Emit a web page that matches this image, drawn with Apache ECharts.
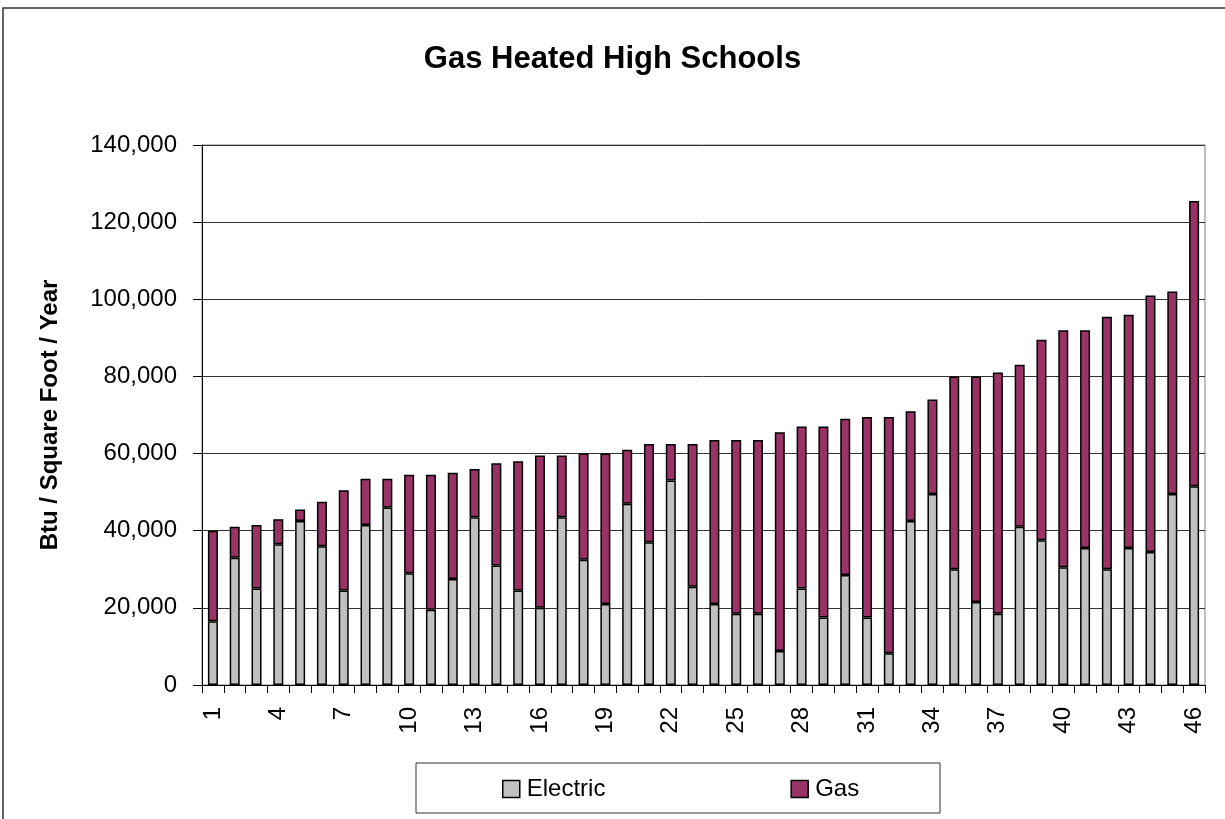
<!DOCTYPE html>
<html>
<head>
<meta charset="utf-8">
<script src="https://cdn.jsdelivr.net/npm/echarts@6/dist/echarts.min.js"></script>
<style>
  html, body { margin: 0; padding: 0; background: #fff; }
  #chart { width: 1225px; height: 819px; }
</style>
</head>
<body>
<div id="chart"></div>
<script>
// school numbers along the x axis
const schools = [];
for (let i = 1; i <= 46; i++) schools.push(String(i));

// Btu / sq ft / year
const electric = [16500, 33000, 25000, 36500, 42500, 36000, 24500, 41500, 46000, 29000,
  19500, 27500, 43500, 31000, 24500, 20000, 43500, 32500, 21000, 47000,
  37000, 53000, 25500, 21000, 18500, 18500, 8800, 25000, 17500, 28500,
  17500, 8200, 42500, 49500, 30000, 21500, 18500, 41000, 37500, 30500,
  35500, 30000, 35500, 34500, 49500, 51500];

const gas = [23500, 8000, 16500, 6500, 3000, 11500, 26000, 12000, 7500, 25500,
  35000, 27500, 12500, 26500, 33500, 39500, 16000, 27500, 39000, 14000,
  25500, 9500, 37000, 42500, 45000, 45000, 56700, 42000, 49500, 40500,
  52000, 61300, 28500, 24500, 50000, 58500, 62500, 42000, 52000, 61500,
  56500, 65500, 60500, 66500, 52500, 74000];

const chart = echarts.init(document.getElementById('chart'))

const font = 'Arial, "Liberation Sans", sans-serif'

const option = {
  animation: false,
  textStyle: { fontFamily: font },
  title: {
    text: 'Gas Heated High Schools',
    left: 'center',
    top: 39,
    textStyle: { fontSize: 31, fontWeight: 'bold', color: '#000', fontFamily: font }
  },
  graphic: [
    {
      // outer chart frame
      type: 'rect',
      shape: { x: 3, y: 8, width: 1240, height: 840 },
      style: { fill: 'none', stroke: '#333', lineWidth: 1.5 },
      silent: true
    },
    {
      // legend frame
      type: 'rect',
      shape: { x: 416, y: 763, width: 524, height: 50 },
      style: { fill: '#fff', stroke: '#333', lineWidth: 1 },
      silent: true,
      z: -1
    }
  ],
  legend: {
    left: 502,
    top: 777,
    data: ['Electric', 'Gas'],
    icon: 'rect',
    itemGap: 185,
    itemWidth: 17,
    itemHeight: 17,
    padding: 0,
    itemStyle: { borderColor: '#000', borderWidth: 1.5 },
    textStyle: { fontSize: 24, color: '#000', fontFamily: font, padding: [0, 0, 0, 2] }
  },
  grid: {
    left: 202,
    right: 20,
    top: 145,
    bottom: 134,
    show: true,
    borderColor: '#808080',
    borderWidth: 1
  },
  xAxis: {
    type: 'category',
    data: schools,
    axisLine: { lineStyle: { color: '#000', width: 1 } },
    axisTick: { show: true, interval: 0, length: 8, lineStyle: { color: '#000' } },
    axisLabel: {
      interval: 2,
      rotate: 90,
      fontSize: 24,
      color: '#000',
      margin: 22
    }
  },
  yAxis: {
    type: 'value',
    min: 0,
    max: 140000,
    interval: 20000,
    name: 'Btu / Square Foot / Year',
    nameLocation: 'middle',
    nameGap: 140,
    nameTextStyle: { fontSize: 24, fontWeight: 'bold', color: '#000', fontFamily: font },
    axisLine: { show: true, lineStyle: { color: '#000', width: 1 } },
    axisTick: { show: true, length: 9, lineStyle: { color: '#000' } },
    axisLabel: {
      fontSize: 24,
      color: '#000',
      margin: 25,
      formatter: v => v.toLocaleString('en-US')
    },
    splitLine: { lineStyle: { color: '#333', width: 1 } }
  },
  series: [
    {
      name: 'Electric',
      type: 'bar',
      stack: 'total',
      data: electric,
      barWidth: 10,
      itemStyle: { color: '#C0C0C0', borderColor: '#000', borderWidth: 1.5 }
    },
    {
      name: 'Gas',
      type: 'bar',
      stack: 'total',
      data: gas,
      barWidth: 10,
      itemStyle: { color: '#993366', borderColor: '#000', borderWidth: 1.5 }
    }
  ]
}

chart.setOption(option)
</script>
</body>
</html>
